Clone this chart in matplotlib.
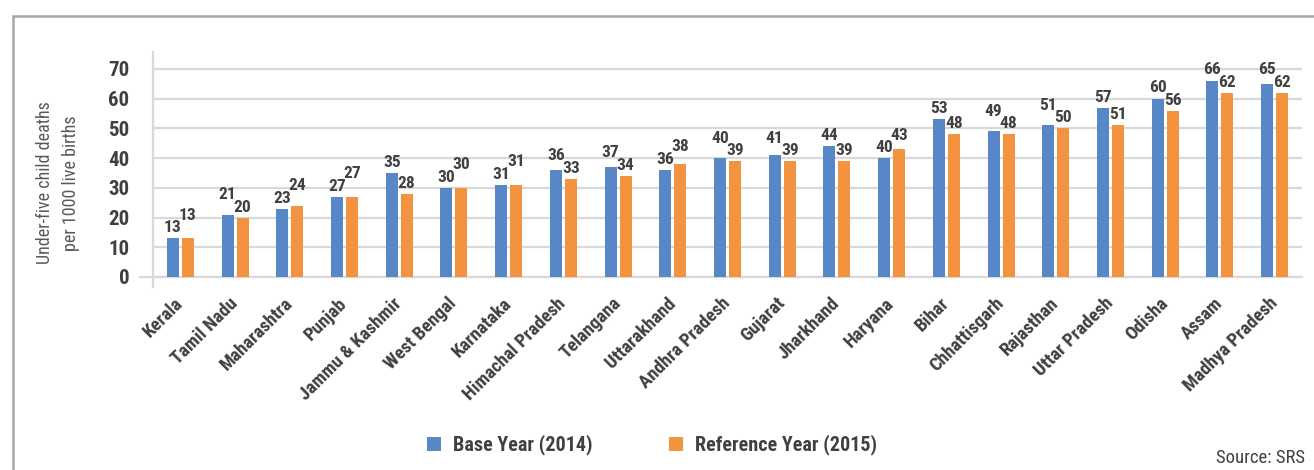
import matplotlib
matplotlib.use("Agg")
import matplotlib.pyplot as plt
from matplotlib import font_manager
from matplotlib.patches import Rectangle
import numpy as np

# Daten
states = [
    "Kerala", "Tamil Nadu", "Maharashtra", "Punjab", "Jammu & Kashmir",
    "West Bengal", "Karnataka", "Himachal Pradesh", "Telangana", "Uttarakhand",
    "Andhra Pradesh", "Gujarat", "Jharkhand", "Haryana", "Bihar",
    "Chhattisgarh", "Rajasthan", "Uttar Pradesh", "Odisha", "Assam",
    "Madhya Pradesh",
]
base_2014 = [13, 21, 23, 27, 35, 30, 31, 36, 37, 36, 40, 41, 44, 40, 53, 49, 51, 57, 60, 66, 65]
ref_2015 = [13, 20, 24, 27, 28, 30, 31, 33, 34, 38, 39, 39, 39, 43, 48, 48, 50, 51, 56, 62, 62]
y_ticks = [0, 10, 20, 30, 40, 50, 60, 70]

blue = "#5787c6"
orange = "#f4933f"
text_col = "#404040"
grid_col = "#d9d9d9"

# schmale Schrift, falls vorhanden
installed = {f.name for f in font_manager.fontManager.ttflist}
narrow = next((f for f in ["Roboto Condensed", "Liberation Sans Narrow", "Arial Narrow"]
               if f in installed), "Roboto")
plt.rcParams["font.family"] = [narrow, "DejaVu Sans"]

fig = plt.figure(figsize=(13.14, 4.70), dpi=100)
ax = fig.add_axes([153 / 1314, 1 - 277 / 470, 1149 / 1314, 225 / 470])

x = np.arange(len(states))
w = 0.22
off = 0.137
ax.bar(x - off, base_2014, w, color=blue, label="Base Year (2014)", zorder=2)
ax.bar(x + off, ref_2015, w, color=orange, label="Reference Year (2015)", zorder=2)

ax.set_xlim(-0.5, len(states) - 0.5)
ax.set_ylim(0, 75.7)
ax.set_yticks(y_ticks)
ax.set_xticks(x)
ax.set_xticklabels(states, rotation=45, ha="right", va="center", rotation_mode="anchor",
                   fontsize=13.5, fontweight="bold", color=text_col)
for lab in ax.get_yticklabels():
    lab.set_fontweight("bold")
ax.tick_params(axis="y", length=0, pad=17, labelsize=15, labelcolor=text_col)
ax.tick_params(axis="x", length=0, pad=17)

ax.yaxis.grid(True, color=grid_col, lw=1.6)
ax.set_axisbelow(True)
for s in ax.spines.values():
    s.set_visible(False)
ax.axhline(0, xmin=-13 / 1149, xmax=1, color=grid_col, lw=1.6, clip_on=False, zorder=1)
ax.axvline(-0.5, ymin=-10 / 225, ymax=1, color=grid_col, lw=1.6, clip_on=False, zorder=1)

# Beschriftungen, gestaffelt wenn sie sich überlappen würden
px = ax.transData.transform((0, 1))[1] - ax.transData.transform((0, 0))[1]
gap, sep = 6, 12.5
for i in range(len(states)):
    yb = base_2014[i] * px + gap
    yo = ref_2015[i] * px + gap
    if abs(yb - yo) < sep:
        if base_2014[i] > ref_2015[i]:
            yb = yo + sep
        else:
            yo = yb + sep
    ax.annotate(str(base_2014[i]), (x[i] - off, base_2014[i]),
                xytext=(0, (yb - base_2014[i] * px) * 0.72), textcoords="offset points",
                ha="center", va="baseline", fontsize=12.5, fontweight="bold", color=text_col)
    ax.annotate(str(ref_2015[i]), (x[i] + off, ref_2015[i]),
                xytext=(0, (yo - ref_2015[i] * px) * 0.72), textcoords="offset points",
                ha="center", va="baseline", fontsize=12.5, fontweight="bold", color=text_col)

fig.text(58 / 1314, 1 - 183 / 470, "Under-five child deaths\nper 1000 live births",
         rotation=90, ha="center", va="center", fontsize=13, color="#595959",
         linespacing=1.6)

fig.legend(loc="center", bbox_to_anchor=(652 / 1314, 1 - 445 / 470), ncol=2,
           frameon=False, handlelength=0.7, handleheight=0.7, columnspacing=3.8,
           handletextpad=0.6, prop={"size": 14.5, "weight": "bold"}, labelcolor=text_col)

fig.text(1305 / 1314, 1 - 458 / 470, "Source: SRS", ha="right", va="center",
         fontsize=13.5, color=text_col)

# Rahmen
fig.patches.append(Rectangle((13 / 1314, -0.1), 1.2, 1.1 - 16 / 470, transform=fig.transFigure,
                             fill=False, edgecolor="#a6a6a6", lw=1.8))

fig.savefig("out.png", dpi=100)
